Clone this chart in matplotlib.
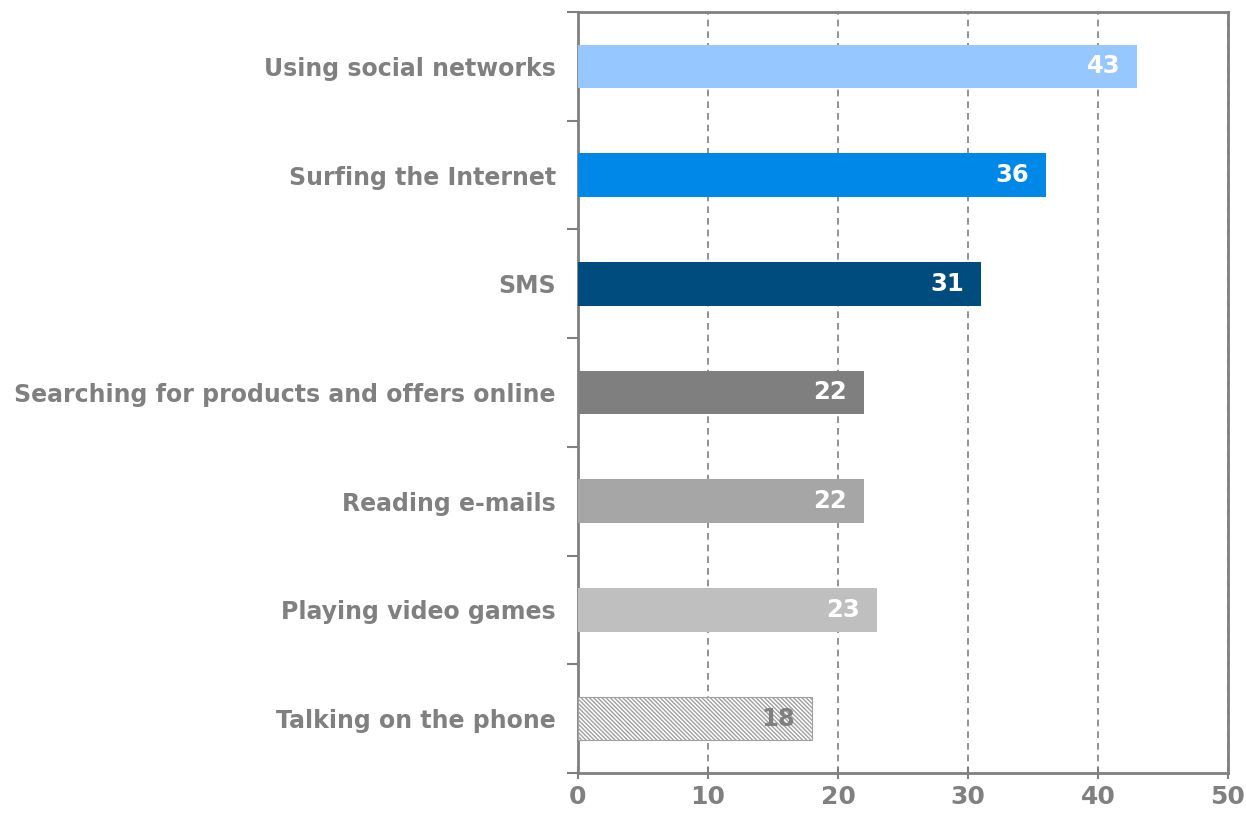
import matplotlib.pyplot as plt
import numpy as np

categories = ['Talking on the phone', 'Playing video games', 'Reading e-mails',
              'Searching for products and offers online', 'SMS',
              'Surfing the Internet', 'Using social networks']
values = [18, 23, 22, 22, 31, 36, 43]
colors = ['white', '#BFBFBF', '#A6A6A6', '#7F7F7F', '#004C7F', '#0088E8', '#96C8FF']
x_ticks = [0, 10, 20, 30, 40, 50]

gray = '#808080'
plt.rcParams['font.family'] = 'DejaVu Sans'
plt.rcParams['font.weight'] = 'bold'
plt.rcParams['hatch.linewidth'] = 1.0
plt.rcParams['hatch.color'] = '#707070'

fig = plt.figure(figsize=(12.46, 8.15), dpi=100)
ax = fig.add_axes([578 / 1246, 1 - 773 / 815, 650 / 1246, 761 / 815])

y = np.arange(len(categories))
bars = ax.barh(y, values, height=0.4, color=colors, zorder=3)

# phone bar is hatched instead of filled
bars[0].set_hatch('\\' * 8)
bars[0].set_edgecolor('#A0A0A0')
bars[0].set_linewidth(0.8)

for i, v in enumerate(values):
    c = gray if i == 0 else 'white'
    ax.text(v - 1.3, i, str(v), ha='right', va='center', color=c,
            fontsize=17.5, fontweight='bold', zorder=4)

ax.set_xlim(0, 50)
ax.set_ylim(-0.5, len(categories) - 0.5)
ax.set_xticks(x_ticks)
ax.set_xticklabels([str(t) for t in x_ticks], fontsize=18, color=gray)
ax.set_yticks(y)
ax.set_yticklabels(categories, fontsize=17, color=gray)
ax.tick_params(axis='y', length=0, pad=16)
ax.set_yticks(np.arange(-0.5, len(categories), 1), minor=True)
ax.tick_params(axis='y', which='minor', length=8, width=1.5, color=gray, direction='out')
ax.tick_params(axis='x', length=8, width=1.5, color=gray, direction='inout', pad=5)

ax.grid(axis='x', color=gray, linestyle=(0, (4, 3)), linewidth=1.2, zorder=1)
for s in ax.spines.values():
    s.set_color(gray)
    s.set_linewidth(2)

fig.savefig('out.png', dpi=100)
